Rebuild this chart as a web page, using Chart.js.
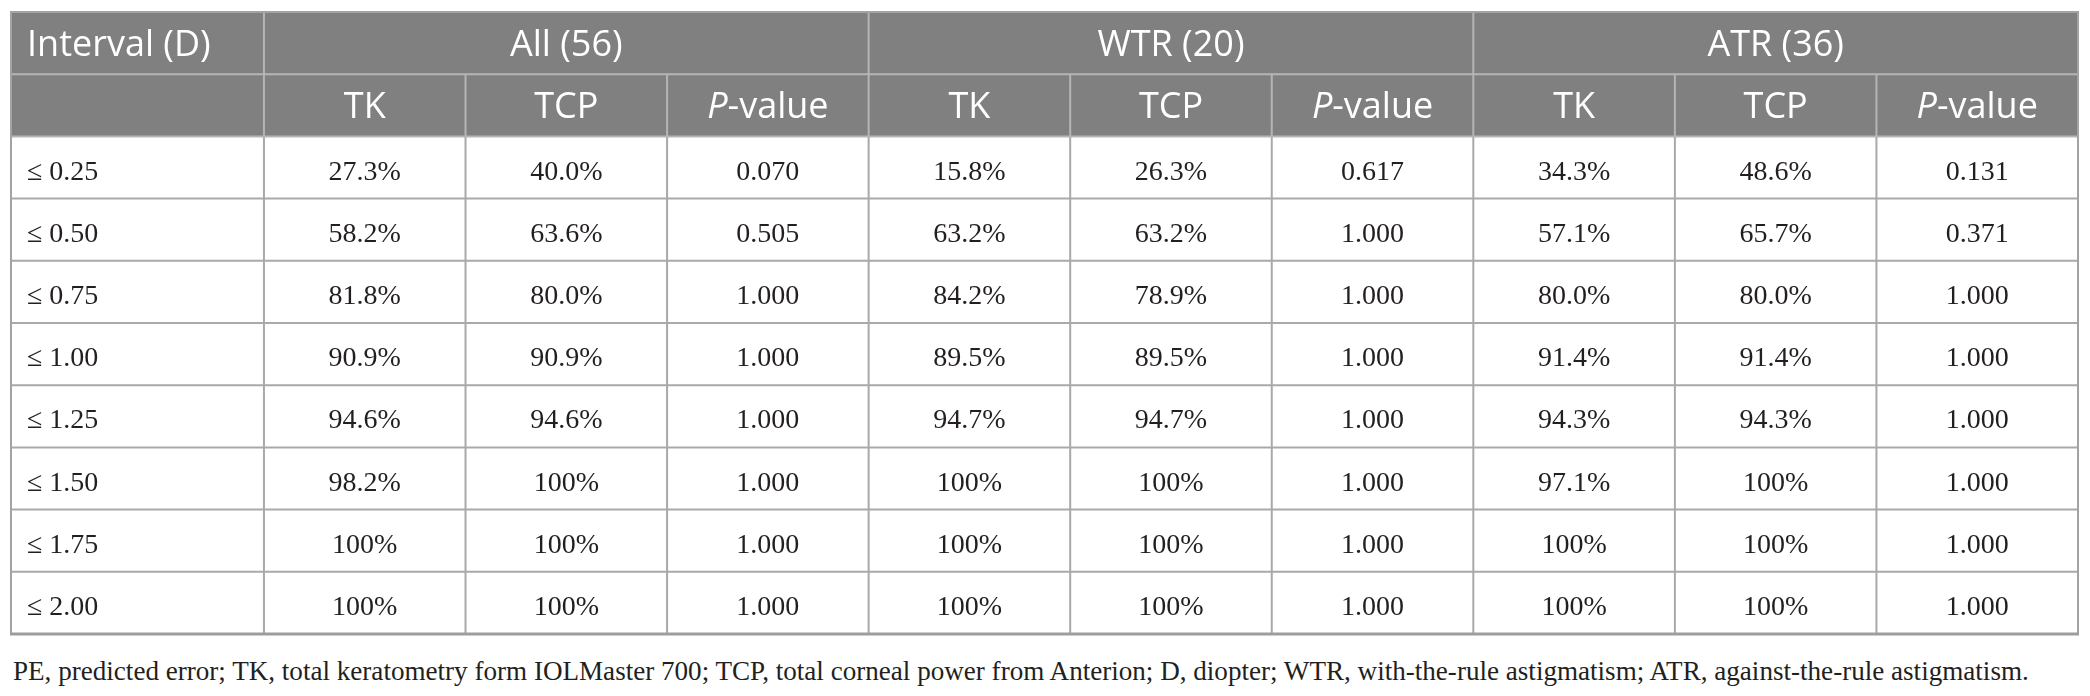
<!DOCTYPE html>
<html>
<head>
<meta charset="utf-8">
<title>Interval table</title>
<script src="https://cdn.jsdelivr.net/npm/chart.js@4.4.1/dist/chart.umd.min.js"></script>
<style>
  html, body { margin: 0; padding: 0; background: #fff; }
  #wrap { position: relative; width: 2090px; height: 696px; }
  #table-chart { position: absolute; left: 0; top: 0; }
  .caption {
    position: absolute; left: 13px; top: 656px;
    font-family: "Liberation Serif", serif; font-size: 27.1px; line-height: 30px;
    color: #231f20; white-space: nowrap;
  }
</style>
</head>
<body>
<div id="wrap">
  <canvas id="table-chart" width="2090" height="645"></canvas>
  <div class="caption">PE, predicted error; TK, total keratometry form IOLMaster 700; TCP, total corneal power from Anterion; D, diopter; WTR, with-the-rule astigmatism; ATR, against-the-rule astigmatism.</div>
</div>
<script>
// Datos de la tabla
const intervals = ['≤ 0.25', '≤ 0.50', '≤ 0.75', '≤ 1.00', '≤ 1.25', '≤ 1.50', '≤ 1.75', '≤ 2.00'];
const groupLabels = ['All (56)', 'WTR (20)', 'ATR (36)'];
const measureLabels = ['TK', 'TCP', 'P-value'];
const firstHeader = 'Interval (D)';

const allTK  = ['27.3%', '58.2%', '81.8%', '90.9%', '94.6%', '98.2%', '100%', '100%'];
const allTCP = ['40.0%', '63.6%', '80.0%', '90.9%', '94.6%', '100%', '100%', '100%'];
const allP   = ['0.070', '0.505', '1.000', '1.000', '1.000', '1.000', '1.000', '1.000'];
const wtrTK  = ['15.8%', '63.2%', '84.2%', '89.5%', '94.7%', '100%', '100%', '100%'];
const wtrTCP = ['26.3%', '63.2%', '78.9%', '89.5%', '94.7%', '100%', '100%', '100%'];
const wtrP   = ['0.617', '1.000', '1.000', '1.000', '1.000', '1.000', '1.000', '1.000'];
const atrTK  = ['34.3%', '57.1%', '80.0%', '91.4%', '94.3%', '97.1%', '100%', '100%'];
const atrTCP = ['48.6%', '65.7%', '80.0%', '91.4%', '94.3%', '100%', '100%', '100%'];
const atrP   = ['0.131', '0.371', '1.000', '1.000', '1.000', '1.000', '1.000', '1.000'];

const columns = [allTK, allTCP, allP, wtrTK, wtrTCP, wtrP, atrTK, atrTCP, atrP];

// Layout (unidades de escala): primera columna mas ancha, 2 filas de cabecera
const FIRST_W = 1.255;
const HEADER_ROWS = 2;
const X_MAX = FIRST_W + columns.length;
const Y_MAX = HEADER_ROWS + intervals.length;

const HEADER_BG = '#808080';
const HEADER_LINE = '#b5b5b5';
const BODY_LINE = '#a9a9a9';
const TEXT_DARK = '#231f20';
const SANS = '"Open Sans", "Noto Sans", sans-serif';
const SERIF = '"Liberation Serif", serif';

// Un dataset por columna: puntos en el centro de cada celda
const datasets = columns.map((col, c) => ({
  label: (groupLabels[Math.floor(c / 3)] + ' ' + measureLabels[c % 3]),
  data: col.map((v, r) => ({ x: FIRST_W + c + 0.5, y: HEADER_ROWS + r + 0.5, text: v })),
  pointRadius: 0,
  pointHoverRadius: 0,
  showLine: false
}));
datasets.push({
  label: 'Interval',
  data: intervals.map((v, r) => ({ x: 0, y: HEADER_ROWS + r + 0.5, text: v })),
  pointRadius: 0,
  pointHoverRadius: 0,
  showLine: false,
  isLabelColumn: true
});

const tablePlugin = {
  id: 'tableCells',
  beforeDatasetsDraw(chart) {
    const { ctx, scales: { x, y } } = chart;
    const left = x.getPixelForValue(0), right = x.getPixelForValue(X_MAX);
    const top = y.getPixelForValue(0), headBottom = y.getPixelForValue(HEADER_ROWS);
    const bottom = y.getPixelForValue(Y_MAX);
    const colX = c => x.getPixelForValue(FIRST_W + c);

    ctx.save();
    // fondo cabecera
    ctx.fillStyle = HEADER_BG;
    ctx.fillRect(left, top, right - left, headBottom - top);

    // lineas del cuerpo
    ctx.strokeStyle = BODY_LINE;
    ctx.lineWidth = 2;
    ctx.beginPath();
    for (let r = 1; r < intervals.length; r++) {
      const py = y.getPixelForValue(HEADER_ROWS + r);
      ctx.moveTo(left, py); ctx.lineTo(right, py);
    }
    for (let c = 0; c < columns.length; c++) {
      const px = colX(c);
      ctx.moveTo(px, headBottom); ctx.lineTo(px, bottom);
    }
    ctx.stroke();

    // lineas de la cabecera
    ctx.strokeStyle = HEADER_LINE;
    ctx.beginPath();
    const mid = y.getPixelForValue(1);
    ctx.moveTo(left, mid); ctx.lineTo(right, mid);
    ctx.moveTo(left, headBottom); ctx.lineTo(right, headBottom);
    for (let c = 0; c < columns.length; c++) {
      const px = colX(c);
      ctx.moveTo(px, c % 3 === 0 ? top : mid);
      ctx.lineTo(px, headBottom);
    }
    ctx.stroke();

    // borde exterior
    ctx.strokeStyle = '#a3a3a3';
    ctx.lineWidth = 2;
    ctx.strokeRect(left, top, right - left, bottom - top);
    ctx.lineWidth = 3;
    ctx.strokeStyle = '#9d9d9d';
    ctx.beginPath();
    ctx.moveTo(left - 1, bottom); ctx.lineTo(right + 1, bottom);
    ctx.stroke();

    // textos de cabecera
    ctx.fillStyle = '#ffffff';
    ctx.font = '36px ' + SANS;
    ctx.textBaseline = 'alphabetic';
    const base = row => (y.getPixelForValue(row) + y.getPixelForValue(row + 1)) / 2 + 12.5;
    ctx.textAlign = 'left';
    ctx.fillText(firstHeader, left + 16, base(0));
    ctx.textAlign = 'center';
    groupLabels.forEach((g, i) => {
      ctx.fillText(g, (colX(i * 3) + colX(i * 3 + 3)) / 2, base(0));
    });
    columns.forEach((col, c) => {
      const cx = (colX(c) + colX(c + 1)) / 2;
      const m = measureLabels[c % 3];
      if (m === 'P-value') {
        ctx.font = 'italic 36px ' + SANS;
        const wP = ctx.measureText('P').width;
        ctx.font = '36px ' + SANS;
        const wRest = ctx.measureText('-value').width;
        const start = cx - (wP + wRest) / 2;
        ctx.textAlign = 'left';
        ctx.font = 'italic 36px ' + SANS;
        ctx.fillText('P', start, base(1));
        ctx.font = '36px ' + SANS;
        ctx.fillText('-value', start + wP, base(1));
        ctx.textAlign = 'center';
      } else {
        ctx.fillText(m, cx, base(1));
      }
    });
    ctx.restore();
  },
  afterDatasetsDraw(chart) {
    const { ctx } = chart;
    const left = chart.scales.x.getPixelForValue(0);
    ctx.save();
    ctx.fillStyle = TEXT_DARK;
    ctx.font = '28px ' + SERIF;
    ctx.textBaseline = 'alphabetic';
    chart.data.datasets.forEach((ds, i) => {
      const meta = chart.getDatasetMeta(i);
      ctx.textAlign = ds.isLabelColumn ? 'left' : 'center';
      meta.data.forEach((pt, j) => {
        const px = ds.isLabelColumn ? left + 16 : pt.x;
        ctx.fillText(ds.data[j].text, px, pt.y + 12);
      });
    });
    ctx.restore();
  }
};

new Chart(document.getElementById('table-chart'), {
  type: 'scatter',
  data: { datasets },
  options: {
    responsive: false,
    devicePixelRatio: 1,
    animation: false,
    events: [],
    layout: { padding: { left: 11, right: 12, top: 12, bottom: 11 } },
    plugins: { legend: { display: false }, tooltip: { enabled: false } },
    scales: {
      x: { type: 'linear', min: 0, max: X_MAX, display: false },
      y: { type: 'linear', min: 0, max: Y_MAX, reverse: true, display: false }
    }
  },
  plugins: [tablePlugin]
});
</script>
</body>
</html>
